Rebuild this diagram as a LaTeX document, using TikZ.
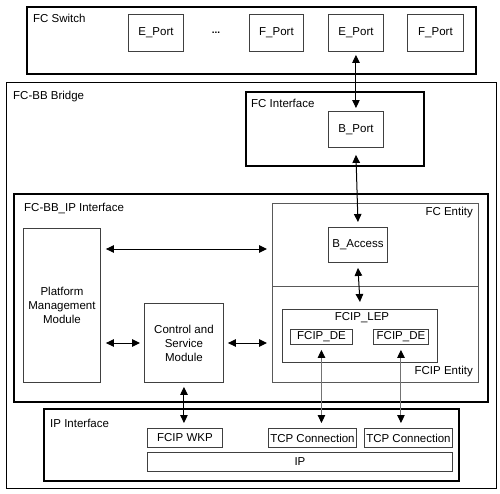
\documentclass[tikz,border=0pt]{standalone}
\usepackage{fontspec}
\setmainfont{Liberation Sans}
\usetikzlibrary{arrows.meta,positioning}

\begin{document}
\begin{tikzpicture}[x=1pt, y=-1pt,
  every node/.style={font=\fontsize{11.5}{14}\selectfont},
  frame/.style={draw, line width=1.6pt, anchor=north west, inner sep=0pt},
  area/.style={draw=black!65, line width=0.8pt, anchor=north west, inner sep=0pt},
  box/.style={draw=black!75, line width=0.9pt, anchor=north west, inner sep=0pt, align=center},
  lab/.style={anchor=west, inner sep=0pt},
  tip/.style={Triangle[length=8pt,width=7.5pt,color=black]},
  arr/.style={{Triangle[length=8pt,width=7.5pt]}-{Triangle[length=8pt,width=7.5pt]}, line width=1pt},
  garr/.style={{Triangle[length=8pt,width=7.5pt,color=black]}-{Triangle[length=8pt,width=7.5pt,color=black]}, line width=1pt, draw=black!55}]
\useasboundingbox (0,0) rectangle (500,493);

% FC switch with its ports
\node[frame, minimum width=449, minimum height=67] (sw) at (26,6) {};
\node[lab] (swlab) at (33,18) {FC Switch};
\node[box, minimum width=55, minimum height=37] (ep1) at (128,14) {E\_Port};
\node[inner sep=0pt, font=\bfseries] (dots) at (216,33) {...};
\node[box, minimum width=54, minimum height=37] (fp1) at (249,14) {F\_Port};
\node[box, minimum width=55, minimum height=37] (ep2) at (328,14) {E\_Port};
\node[box, minimum width=56, minimum height=37] (fp2) at (407,14) {F\_Port};

% bridge
\node[frame, line width=1.1pt, minimum width=490, minimum height=406] (br) at (6,82) {};
\node[lab] (brlab) at (13,97) {FC-BB Bridge};

\node[frame, minimum width=178, minimum height=74] (fci) at (245,91) {};
\node[lab] (fcilab) at (251,103) {FC Interface};
\node[box, minimum width=55, minimum height=36] (bport) at (328,111) {B\_Port};

% FC-BB_IP interface
\node[frame, minimum width=474, minimum height=208] (ipif) at (13,193) {};
\node[lab] (ipiflab) at (24,208) {FC-BB\_IP Interface};

\node[area, minimum width=206, minimum height=83] (fce) at (272,203) {};
\node[anchor=east, inner sep=0pt] (fcelab) at (473,213) {FC Entity};
\node[area, minimum width=206, minimum height=96] (fcipe) at (272,286) {};
\node[anchor=east, inner sep=0pt] (fcipelab) at (473,372) {FCIP Entity};

\node[box, minimum width=59, minimum height=35] (bacc) at (328,227) {B\_Access};
\node[box, minimum width=155, minimum height=53] (lep) at (282,309) {};
\node[inner sep=0pt] (leplab) at (362,318) {FCIP\_LEP};
\node[box, minimum width=62, minimum height=15] (de1) at (290,329) {FCIP\_DE};
\node[box, minimum width=55, minimum height=15] (de2) at (373,329) {FCIP\_DE};

\node[box, minimum width=77, minimum height=154] (pmm) at (23,228) {Platform\\Management\\Module};
\node[box, minimum width=79, minimum height=79] (csm) at (144,303) {Control and\\Service\\Module};

% IP interface
\node[frame, minimum width=415, minimum height=72] (ip) at (43,408) {};
\node[lab] (iplab) at (50,423) {IP Interface};
\node[box, minimum width=75, minimum height=19] (wkp) at (147,428) {FCIP WKP};
\node[box, minimum width=88, minimum height=19] (tcp1) at (268,428) {TCP Connection};
\node[box, minimum width=88, minimum height=19] (tcp2) at (364,428) {TCP Connection};
\node[box, minimum width=305, minimum height=19] (ipl) at (147,452) {IP};

% connectors
\draw[arr] ([yshift=-3pt]ep2.south) -- ([yshift=3pt]bport.north);
\draw[arr] ([yshift=-7pt]bport.south) -- ([yshift=5pt]bacc.north);
\draw[arr] ([yshift=-5pt]bacc.south) -- ([yshift=7pt]lep.north);
\draw[arr] ([xshift=5pt]pmm.east |- 0,249) -- ([xshift=-5pt]fce.west |- 0,249);
\draw[arr] ([xshift=5pt]pmm.east |- 0,343) -- ([xshift=-4pt]csm.west |- 0,343);
\draw[arr] ([xshift=4pt]csm.east |- 0,343) -- ([xshift=-5pt]fcipe.west |- 0,343);
\draw[arr] ([yshift=-4pt]csm.south) -- ([yshift=5pt]wkp.north -| csm.south);
\draw[garr] ([yshift=-5pt]de1.south) -- ([yshift=5pt]de1.south |- tcp1.north);
\draw[garr] ([yshift=-5pt]de2.south) -- ([yshift=5pt]de2.south |- tcp2.north);
\end{tikzpicture}
\end{document}
